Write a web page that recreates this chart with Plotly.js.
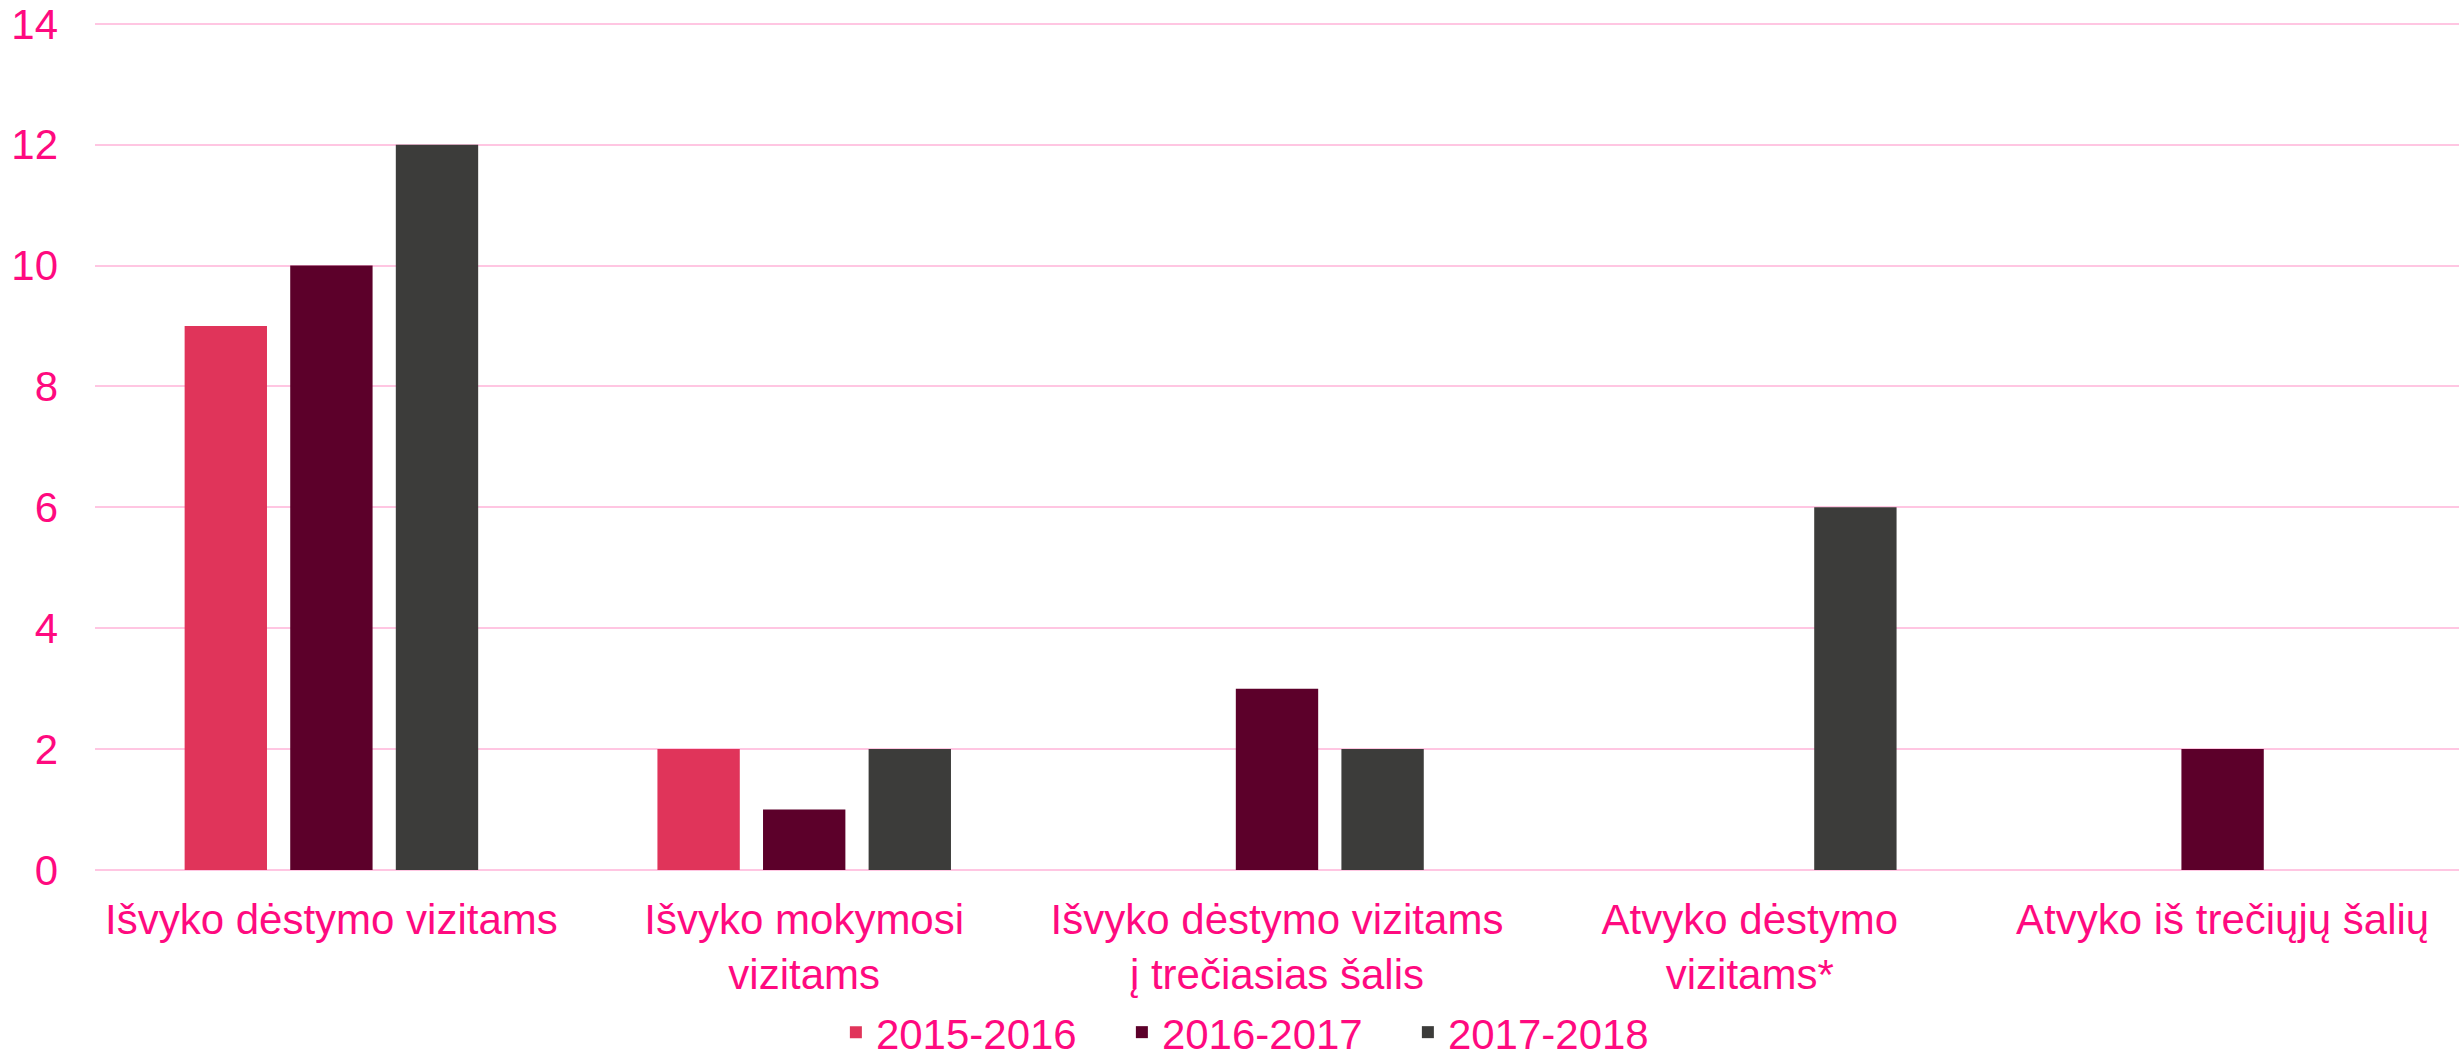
<!DOCTYPE html>
<html>
<head>
<meta charset="utf-8">
<script src="https://cdn.plot.ly/plotly-3.0.1.min.js"></script>
<style>html,body{margin:0;padding:0;background:#fff;}#chart{width:2463px;height:1061px;}</style>
</head>
<body>
<div id="chart"></div>
<script>
const categories = [
  "Išvyko dėstymo vizitams",
  "Išvyko mokymosi<br>vizitams",
  "Išvyko dėstymo vizitams<br>į trečiasias šalis",
  "Atvyko dėstymo<br>vizitams*",
  "Atvyko iš trečiųjų šalių"
];
const seriesNames = ["2015-2016", "2016-2017", "2017-2018"];
const values2015 = [9, 2, null, null, null];
const values2016 = [10, 1, 3, null, 2];
const values2017 = [12, 2, 2, 6, null];
const colors = ["#E0345A", "#5C002A", "#3C3C3A"];
const yTicks = [0, 2, 4, 6, 8, 10, 12, 14];

const textColor = "#FF0A7F";
const font = "Liberation Sans, Arial, sans-serif";

const allValues = [values2015, values2016, values2017];
const traces = allValues.map((vals, i) => ({
  type: "bar",
  name: seriesNames[i],
  x: categories,
  y: vals,
  marker: {color: colors[i], line: {width: 0}},
  hoverinfo: "skip"
}));

const layout = {
  width: 2463,
  height: 1061,
  margin: {l: 95, r: 4, t: 22, b: 191, autoexpand: false},
  paper_bgcolor: "#ffffff",
  plot_bgcolor: "#ffffff",
  barmode: "group",
  bargap: 0.33,
  bargroupgap: 0.22,
  font: {family: font, color: textColor, size: 42},
  xaxis: {
    type: "category",
    automargin: false,
    tickfont: {family: font, color: textColor, size: 42},
    showgrid: false,
    showline: false,
    zeroline: false,
    ticks: "",
    ticklabelstandoff: 21
  },
  yaxis: {
    range: [0, 14.03],
    automargin: false,
    tickvals: yTicks,
    ticktext: yTicks.map(String),
    showgrid: true,
    gridcolor: "#FFC6E2",
    gridwidth: 2,
    zeroline: true,
    zerolinecolor: "#FFC6E2",
    zerolinewidth: 2,
    showline: false,
    ticks: "",
    tickfont: {family: font, color: textColor, size: 42},
    ticklabelstandoff: 36
  },
  legend: {
    orientation: "h",
    x: 0.3134,
    xanchor: "left",
    yref: "container",
    y: 0.027,
    yanchor: "middle",
    font: {family: font, color: textColor, size: 42},
    itemwidth: 30,
    entrywidth: 241,
    entrywidthmode: "pixels",
    traceorder: "normal"
  },
  showlegend: true
};

Plotly.newPlot("chart", traces, layout, {staticPlot: true, displayModeBar: false});
</script>
</body>
</html>
